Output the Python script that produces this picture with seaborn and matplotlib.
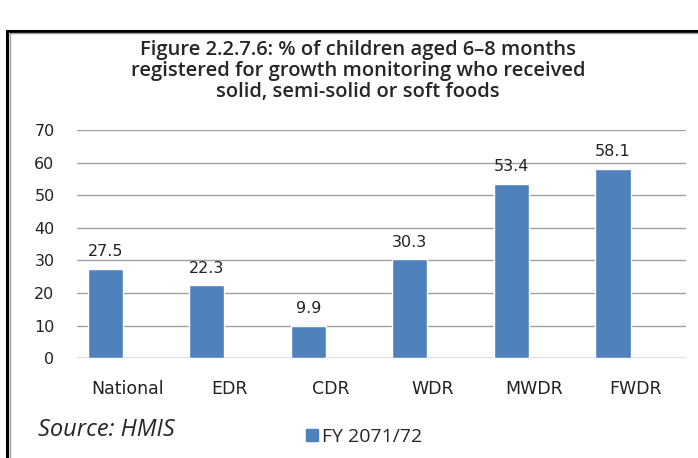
import numpy as np
import pandas as pd
import matplotlib.pyplot as plt
import seaborn as sns
from matplotlib.patches import Rectangle

sns.set_theme(style='white')
plt.rcParams['font.family'] = ['DejaVu Sans']

# data
regions = ['National', 'EDR', 'CDR', 'WDR', 'MWDR', 'FWDR']
values = [27.5, 22.3, 9.9, 30.3, 53.4, 58.1]
series_name = 'FY 2071/72'

df = pd.DataFrame({'Region': regions, 'Percent': values})

fig = plt.figure(figsize=(6.98, 4.58), dpi=100)
ax = fig.add_axes([0.110, 0.218, 0.873, 0.498])

sns.barplot(data=df, x='Region', y='Percent', color='#4F81BD', saturation=1,
            width=0.345, ax=ax)

ax.set_ylim(0, 70)
ax.set_yticks(range(0, 71, 10))
ax.set_xlim(-0.28, 5.72)
ax.yaxis.grid(True, color='#A0A0A0', linewidth=1)
ax.set_axisbelow(True)
for s in ax.spines.values():
    s.set_visible(False)
ax.axhline(0, color='#A0A0A0', linewidth=1, zorder=0)
ax.set_xlabel('')
ax.set_ylabel('')
ax.tick_params(axis='y', length=0, labelsize=11.5, pad=16, labelcolor='#222222')

# category labels sit a bit right of the bars in the original
ax.set_xticks([i + 0.22 for i in range(len(regions))])
ax.set_xticklabels(regions, fontsize=12.5, color='#222222')
ax.tick_params(axis='x', length=0, pad=16)

for i, v in enumerate(values):
    ax.text(i, v + 3.9, f'{v}', ha='center', va='baseline', fontsize=11.5, color='#222222')

# va='baseline' anchors the last line of the title
fig.text(0.513, 0.788, 'Figure 2.2.7.6: % of children aged 6\u20138 months\n'
         'registered for growth monitoring who received\n'
         'solid, semi-solid or soft foods',
         ha='center', va='baseline', fontsize=14.5, fontweight='semibold',
         family=['Open Sans', 'DejaVu Sans'], linespacing=1.08)

fig.text(0.054, 0.048, 'Source: HMIS', fontsize=17, style='italic', va='baseline',
         family=['Open Sans', 'DejaVu Sans'])

handle = Rectangle((0, 0), 1, 1, color='#4F81BD')
fig.legend([handle], [series_name], loc='center left', bbox_to_anchor=(0.438, 0.046),
           frameon=False, borderpad=0, borderaxespad=0,
           handlelength=0.62, handleheight=0.62, handletextpad=0.2,
           prop={'family': ['Open Sans', 'DejaVu Sans'], 'size': 14})

# border frame round the chart
fig.add_artist(Rectangle((0.010, -0.05), 1.05, 0.983, transform=fig.transFigure,
                         fill=False, edgecolor='black', linewidth=2.2))
fig.add_artist(Rectangle((0.0145, -0.05), 1.05, 0.978, transform=fig.transFigure,
                         fill=False, edgecolor='#9A9A9A', linewidth=1))

fig.savefig('out.png', dpi=100)
